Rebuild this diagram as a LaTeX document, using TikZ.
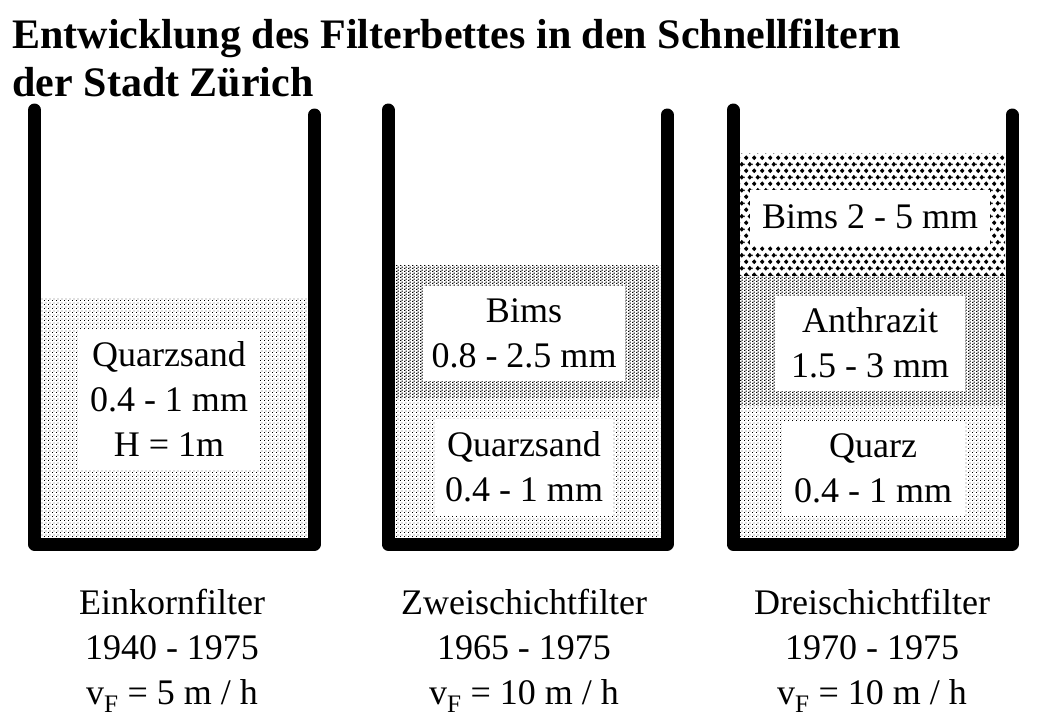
\documentclass[tikz,border=0pt]{standalone}
\usepackage{fontspec}
\setmainfont{Liberation Serif}
\usetikzlibrary{patterns}

% fill patterns of the filter layers
\pgfdeclarepatternformonly{sanddots}{\pgfpointorigin}{\pgfpoint{4pt}{4pt}}{\pgfpoint{4pt}{4pt}}{%
  \pgfpathrectangle{\pgfpoint{0pt}{0pt}}{\pgfpoint{1.1pt}{1.1pt}}%
  \pgfpathrectangle{\pgfpoint{2pt}{2pt}}{\pgfpoint{1.1pt}{1.1pt}}%
  \pgfusepath{fill}}
\pgfdeclarepatternformonly{grainbits}{\pgfpointorigin}{\pgfpoint{4pt}{3.4pt}}{\pgfpoint{4pt}{3.4pt}}{%
  \pgfpathrectangle{\pgfpoint{0pt}{0pt}}{\pgfpoint{1.6pt}{1.2pt}}%
  \pgfpathrectangle{\pgfpoint{2pt}{1.7pt}}{\pgfpoint{1.6pt}{1.2pt}}%
  \pgfusepath{fill}}
\pgfdeclarepatternformonly{pumicediamonds}{\pgfpointorigin}{\pgfpoint{8pt}{13.4pt}}{\pgfpoint{8pt}{13.4pt}}{%
  \pgfpathmoveto{\pgfpoint{0pt}{3.35pt}}\pgfpathlineto{\pgfpoint{2.5pt}{0.85pt}}%
  \pgfpathlineto{\pgfpoint{5pt}{3.35pt}}\pgfpathlineto{\pgfpoint{2.5pt}{5.85pt}}\pgfpathclose
  \pgfpathmoveto{\pgfpoint{4pt}{10.05pt}}\pgfpathlineto{\pgfpoint{6.5pt}{7.55pt}}%
  \pgfpathlineto{\pgfpoint{9pt}{10.05pt}}\pgfpathlineto{\pgfpoint{6.5pt}{12.55pt}}\pgfpathclose
  \pgfpathmoveto{\pgfpoint{-4pt}{10.05pt}}\pgfpathlineto{\pgfpoint{-1.5pt}{7.55pt}}%
  \pgfpathlineto{\pgfpoint{1pt}{10.05pt}}\pgfpathlineto{\pgfpoint{-1.5pt}{12.55pt}}\pgfpathclose
  \pgfusepath{fill}}

\begin{document}
\begin{tikzpicture}[x=1pt, y=-1pt,
    wall/.style={line width=13pt, line cap=round, line join=round},
    layerbox/.style={fill=white, align=center, inner sep=0pt, font=\fontsize{36}{45}\selectfont},
    caption/.style={align=center, font=\fontsize{36}{45}\selectfont},
    heading/.style={anchor=base west, font=\fontsize{42}{48}\selectfont\bfseries}]
  \useasboundingbox (0,0) rectangle (1040,720);

  \node [heading] (title1) at (9,48) {Entwicklung des Filterbettes in den Schnellfiltern};
  \node [heading] (title2) at (9,96) {der Stadt Zürich};

  % Einkornfilter
  \fill [pattern=sanddots] (41,297) rectangle (307,538);
  \node [layerbox, minimum width=182, minimum height=141] (quarz1) at (169,399) {Quarzsand\\0.4 - 1 mm\\H = 1m};
  \draw [wall] (34.5,110) -- (34.5,544) -- (314.5,544) -- (314.5,115);

  % Zweischichtfilter
  \fill [pattern=grainbits] (395,265) rectangle (660,397);
  \fill [pattern=sanddots] (395,397) rectangle (660,538);
  \node [layerbox, minimum width=202, minimum height=95] (bims2) at (524,333) {Bims\\0.8 - 2.5 mm};
  \node [layerbox, minimum width=177, minimum height=97] (quarz2) at (524,467) {Quarzsand\\0.4 - 1 mm};
  \draw [wall] (388,110) -- (388,544) -- (667,544) -- (667,115);

  % Dreischichtfilter
  \fill [pattern=pumicediamonds] (740,153) rectangle (1005,275);
  \fill [pattern=grainbits] (740,275) rectangle (1005,405);
  \fill [pattern=sanddots] (740,405) rectangle (1005,538);
  \node [layerbox, minimum width=240, minimum height=55] (bims3) at (870,217) {Bims 2 - 5 mm};
  \node [layerbox, minimum width=190, minimum height=95] (anthrazit3) at (870,343) {Anthrazit\\1.5 - 3 mm};
  \node [layerbox, minimum width=183, minimum height=95] (quarz3) at (873,468) {Quarz\\0.4 - 1 mm};
  \draw [wall] (733,110) -- (733,544) -- (1012,544) -- (1012,115);

  \node [caption] (einkorn) at (172,651) {Einkornfilter\\1940 - 1975\\v\textsubscript{F} = 5 m / h};
  \node [caption] (zweischicht) at (524,651) {Zweischichtfilter\\1965 - 1975\\v\textsubscript{F} = 10 m / h};
  \node [caption] (dreischicht) at (872,651) {Dreischichtfilter\\1970 - 1975\\v\textsubscript{F} = 10 m / h};
\end{tikzpicture}
\end{document}
